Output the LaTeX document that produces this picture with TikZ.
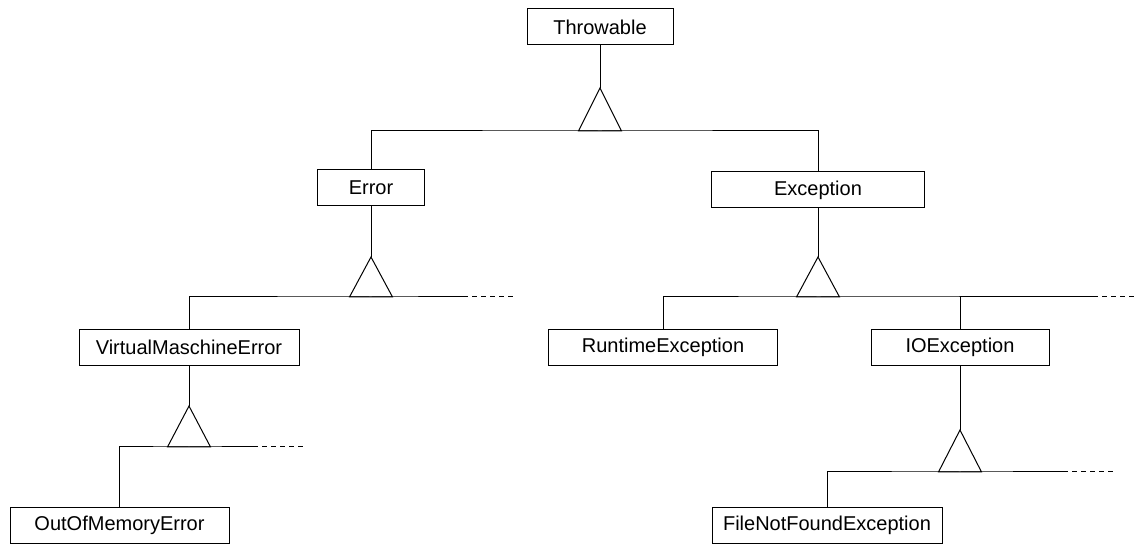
\documentclass[tikz,border=0pt]{standalone}
\usepackage{fontspec}
\setmainfont{Liberation Sans}

\tikzset{
  cls/.style={draw, minimum height=18pt, inner sep=0pt, font=\fontsize{10}{12}\selectfont},
  more/.style={dashed, dash pattern=on 2.5pt off 2pt},
}

\begin{document}
\begin{tikzpicture}[x=0.5pt, y=-0.5pt, line width=0.5pt]
\useasboundingbox (0,0) rectangle (1135,544);
% classes
\node[cls, minimum width=73pt] (Throwable) at (600,27) {Throwable};
\node[cls, minimum width=53.5pt] (Error) at (371,188) {Error};
\node[cls, minimum width=106.5pt] (Exception) at (818,190) {Exception};
\node[cls, minimum width=110pt] (VMError) at (189,347.5) {VirtualMaschineError};
\node[cls, minimum width=114.5pt] (Runtime) at (663,347.5) {RuntimeException};
\node[cls, minimum width=89pt] (IOExc) at (960,347.5) {IOException};
\node[cls, minimum width=109.5pt] (OOMError) at (119.5,525.5) {OutOfMemoryError};
\node[cls, minimum width=115pt] (FNFExc) at (827,525.5) {FileNotFoundException};
% inheritance points
\coordinate (t1) at (600,88);   \coordinate (b1) at (600,131);
\coordinate (t2) at (371,257);  \coordinate (b2) at (371,297);
\coordinate (t3) at (818,257);  \coordinate (b3) at (818,297);
\coordinate (t4) at (189,406);  \coordinate (b4) at (189,447);
\coordinate (t5) at (960,430);  \coordinate (b5) at (960,472);
% Throwable
\draw (Throwable) -- (t1);
\draw (t1) -- ++(-21.5,43) -- ++(43,0) -- cycle;
\draw (Error) |- (b1) -| (Exception);
% Error
\draw (Error) -- (t2);
\draw (t2) -- ++(-21.5,40) -- ++(43,0) -- cycle;
\draw (VMError) |- (b2) -- (463,297) coordinate (e2);
\draw[more] (e2) -- (513,297);
% Exception
\draw (Exception) -- (t3);
\draw (t3) -- ++(-21.5,40) -- ++(43,0) -- cycle;
\draw (Runtime) |- (b3) -- (1093,297) coordinate (e3);
\draw (IOExc) -- (IOExc |- b3);
\draw[more] (e3) -- (1135,297);
% VirtualMaschineError
\draw (VMError) -- (t4);
\draw (t4) -- ++(-21.5,41) -- ++(43,0) -- cycle;
\draw (OOMError) |- (b4) -- (253,447) coordinate (e4);
\draw[more] (e4) -- (305,447);
% IOException
\draw (IOExc) -- (t5);
\draw (t5) -- ++(-21.5,42) -- ++(43,0) -- cycle;
\draw (FNFExc) |- (b5) -- (1063,472) coordinate (e5);
\draw[more] (e5) -- (1115,472);
\end{tikzpicture}
\end{document}
